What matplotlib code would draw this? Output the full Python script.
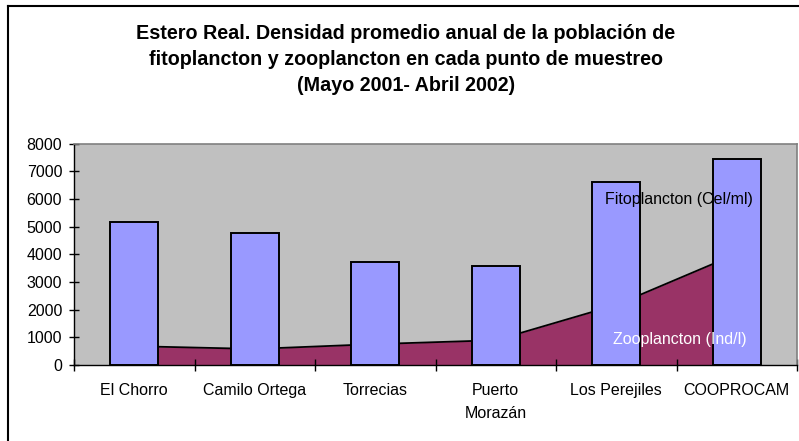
import matplotlib
matplotlib.use("Agg")
import matplotlib.pyplot as plt
import numpy as np
from matplotlib.lines import Line2D

plt.rcParams['font.family'] = ['Liberation Sans', 'DejaVu Sans']

categories = ["El Chorro", "Camilo Ortega", "Torrecias", "Puerto\nMorazán", "Los Perejiles", "COOPROCAM"]
fitoplancton = [5150, 4780, 3730, 3575, 6610, 7440]
zooplancton = [680, 580, 755, 895, 2170, 4015]
yticks = [0, 1000, 2000, 3000, 4000, 5000, 6000, 7000, 8000]

W, H = 799, 441
fig = plt.figure(figsize=(W / 100, H / 100), dpi=100)
fig.patch.set_facecolor("white")

left, right, top, bottom = 74, 797, 143.5, 365
ax = fig.add_axes([left / W, 1 - bottom / H, (right - left) / W, (bottom - top) / H])
ax.set_facecolor("#C0C0C0")

x = np.arange(len(categories))
ax.fill_between(x, 0, zooplancton, color="#993366", zorder=1, linewidth=0)
ax.plot(x, zooplancton, color="black", linewidth=1.3, zorder=1.5)
ax.bar(x, fitoplancton, width=0.4, color="#9999FF", edgecolor="black", linewidth=1.4, zorder=2)

ax.set_xlim(-0.5, len(categories) - 0.5)
ax.set_ylim(0, 8000)
ax.set_yticks(yticks)
ax.set_yticklabels([str(v) for v in yticks], fontsize=11.5)
ax.set_xticks(np.arange(len(categories) + 1) - 0.5)
ax.set_xticklabels([])
ax.set_xticks(x, minor=True)
ax.set_xticklabels(categories, minor=True, fontsize=11.5, linespacing=1.7)
ax.tick_params(axis="x", which="major", direction="inout", length=8, width=1)
ax.tick_params(axis="x", which="minor", length=0, pad=13)
ax.tick_params(axis="y", which="major", direction="inout", length=7, width=1, pad=5)

for s in ["top", "right"]:
    ax.spines[s].set_color("#808080")
    ax.spines[s].set_linewidth(1.2)
for s in ["left", "bottom"]:
    ax.spines[s].set_color("black")
    ax.spines[s].set_linewidth(1)

ax.text(4.52, 5995, "Fitoplancton (Cel/ml)", fontsize=11.5, color="black",
        ha="center", va="center", zorder=5)
ax.text(4.53, 920, "Zooplancton (Ind/l)", fontsize=11.5, color="white",
        ha="center", va="center", zorder=5)

fig.text(406 / W, 1 - 59.5 / H,
         "Estero Real. Densidad promedio anual de la población de\n"
         "fitoplancton y zooplancton en cada punto de muestreo\n"
         "(Mayo 2001- Abril 2002)",
         ha="center", va="center", fontsize=14.2, fontweight="bold", linespacing=1.45)

# chart outer border (left and top visible)
fig.add_artist(Line2D([8 / W, 8 / W], [0, 1 - 6 / H], transform=fig.transFigure, color="black", linewidth=1.5))
fig.add_artist(Line2D([8 / W, 1], [1 - 6 / H, 1 - 6 / H], transform=fig.transFigure, color="black", linewidth=1.5))

fig.savefig("out.png", dpi=100)
